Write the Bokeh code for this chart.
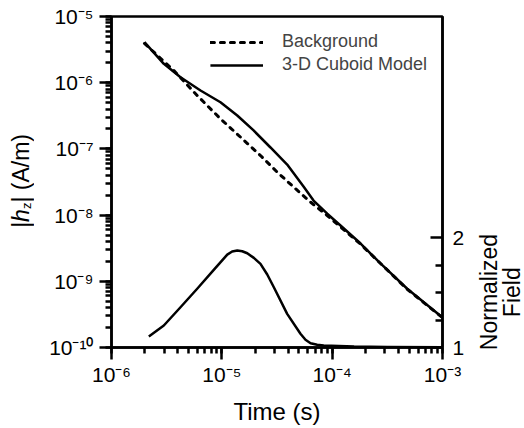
from bokeh.plotting import figure
from bokeh.layouts import row
from bokeh.models import (Range1d, LinearAxis, LinearScale, FixedTicker, LogTicker,
                          CustomJSTickFormatter, Div)
from bokeh.embed import file_html
from bokeh.resources import INLINE

# ---- data ----
t_model = [1.99e-6, 2.98e-6, 4.22e-6, 6.41e-6, 9.72e-6, 1.38e-5, 1.94e-5, 2.76e-5,
           3.91e-5, 5.50e-5, 6.78e-5, 9.02e-5, 1.19e-4, 1.81e-4, 2.74e-4, 4.79e-4, 1.0e-3]
h_model = [4.09e-6, 1.93e-6, 1.21e-6, 7.62e-7, 5.07e-7, 3.20e-7, 1.90e-7, 1.05e-7,
           5.81e-8, 2.70e-8, 1.66e-8, 1.05e-8, 6.97e-9, 3.72e-9, 1.86e-9, 7.71e-10, 2.84e-10]

t_bg = [1.99e-6, 3.67e-6, 5.98e-6, 9.72e-6, 1.48e-5, 2.24e-5, 3.18e-5, 4.49e-5,
        6.37e-5, 9.02e-5, 1.81e-4, 4.79e-4, 1.0e-3]
h_bg = [3.91e-6, 1.53e-6, 6.41e-7, 2.85e-7, 1.50e-7, 7.94e-8, 4.45e-8, 2.64e-8,
        1.57e-8, 9.86e-9, 3.63e-9, 7.59e-10, 2.82e-10]

t_norm = [2.18e-6, 2.98e-6, 4.22e-6, 5.98e-6, 8.45e-6, 1.12e-5, 1.24e-5, 1.38e-5,
          1.53e-5, 1.70e-5, 1.95e-5, 2.24e-5, 2.58e-5, 2.96e-5, 3.91e-5, 5.16e-5,
          5.73e-5, 6.37e-5, 7.31e-5, 8.39e-5, 1.58e-4, 3.16e-4, 1.0e-3]
n_norm = [1.100, 1.200, 1.366, 1.534, 1.706, 1.845, 1.873, 1.882,
          1.875, 1.857, 1.815, 1.761, 1.664, 1.548, 1.306, 1.125,
          1.070, 1.039, 1.025, 1.018, 1.008, 1.004, 1.002]

x_lim = (1e-6, 1e-3)
y_lim = (1e-10, 1e-5)
norm_lim = (1.0, 4.01)
norm_ticks = [1, 2]
norm_minor = [1.25, 1.5, 1.75]

FONT = "Liberation Sans"
H = 428

p = figure(width=428, height=H, x_axis_type="log", y_axis_type="log",
           x_range=Range1d(*x_lim), y_range=Range1d(*y_lim),
           output_backend="svg", toolbar_location=None,
           min_border_left=71, min_border_right=26,
           min_border_top=16, min_border_bottom=81,
           x_axis_label="Time (s)", margin=0)
p.grid.visible = False
p.background_fill_color = "white"
p.border_fill_color = "white"
p.outline_line_color = "black"
p.outline_line_width = 2.5

p.extra_y_ranges = {"norm": Range1d(start=norm_lim[0], end=norm_lim[1])}
p.extra_y_scales = {"norm": LinearScale()}

sup = CustomJSTickFormatter(code="""
const s = {"-":"\u207b","0":"\u2070","1":"\u00b9","2":"\u00b2","3":"\u00b3","4":"\u2074",
           "5":"\u2075","6":"\u2076","7":"\u2077","8":"\u2078","9":"\u2079"};
const e = Math.round(Math.log10(tick));
return "10" + String(e).split("").map(c => s[c]).join("");
""")

for ax in (p.xaxis[0], p.yaxis[0]):
    ax.formatter = sup
    ax.ticker = LogTicker(num_minor_ticks=10)
    ax.axis_line_width = 2.5
    ax.major_tick_line_width = 2.5
    ax.minor_tick_line_width = 2.5
    ax.major_tick_out = 12
    ax.major_tick_in = 0
    ax.minor_tick_out = 6
    ax.minor_tick_in = 0
    ax.major_label_text_font = FONT
    ax.major_label_text_font_size = "21px"
    ax.major_label_text_color = "black"

p.xaxis.major_label_standoff = 3
p.xaxis.axis_label_text_font = FONT
p.xaxis.axis_label_text_font_size = "24px"
p.xaxis.axis_label_text_font_style = "normal"
p.xaxis.axis_label_text_color = "black"
p.xaxis.axis_label_standoff = 9
p.yaxis.major_label_standoff = 6

rax = LinearAxis(y_range_name="norm",
                 ticker=FixedTicker(ticks=norm_ticks, minor_ticks=norm_minor))
rax.axis_line_width = 2.5
rax.major_tick_line_width = 2.5
rax.minor_tick_line_width = 2.5
rax.major_tick_in = 12
rax.major_tick_out = 0
rax.minor_tick_in = 7
rax.minor_tick_out = 0
rax.major_label_standoff = 10
rax.major_label_text_font = FONT
rax.major_label_text_font_size = "21px"
rax.major_label_text_color = "black"
p.add_layout(rax, "right")

p.line(t_bg, h_bg, line_color="black", line_width=3, line_dash="4 6",
       line_cap="round", legend_label="Background")
p.line(t_model, h_model, line_color="black", line_width=2.5,
       legend_label="3-D Cuboid Model")
p.line(t_norm, n_norm, y_range_name="norm", line_color="black", line_width=2.5,
       line_join="round")

lg = p.legend[0]
lg.location = "top_right"
lg.border_line_alpha = 0
lg.background_fill_alpha = 0
lg.glyph_width = 53
lg.glyph_height = 20
lg.label_standoff = 19
lg.label_text_font = FONT
lg.label_text_font_size = "18px"
lg.spacing = 2
lg.padding = 14
lg.margin = 1

# axis titles drawn as rotated HTML text beside the plot
TXT = ("font-family:'Liberation Sans'; font-size:23px; line-height:23px; "
       "color:black; white-space:nowrap; writing-mode:vertical-rl; ")

left_html = (
    '<div style="position:relative; width:40px; height:428px; overflow:visible;">'
    '<div style="position:absolute; left:10px; bottom:200px; ' + TXT +
    'transform:rotate(180deg);">'
    '|<i>h</i><sub style="font-size:13px; line-height:0;">z</sub>| (A/m)</div></div>'
)
right_html = (
    '<div style="position:relative; width:56px; height:428px; overflow:visible;">'
    '<div style="position:absolute; left:10px; top:292px; text-align:center; ' + TXT +
    'transform:translateY(-50%) rotate(180deg);">Normalized<br>Field</div></div>'
)

left = Div(text=left_html, width=40, height=H, margin=0)
right = Div(text=right_html, width=56, height=H, margin=0)

layout = row(left, p, right, spacing=0)
open("out.html", "w").write(file_html(layout, INLINE))
